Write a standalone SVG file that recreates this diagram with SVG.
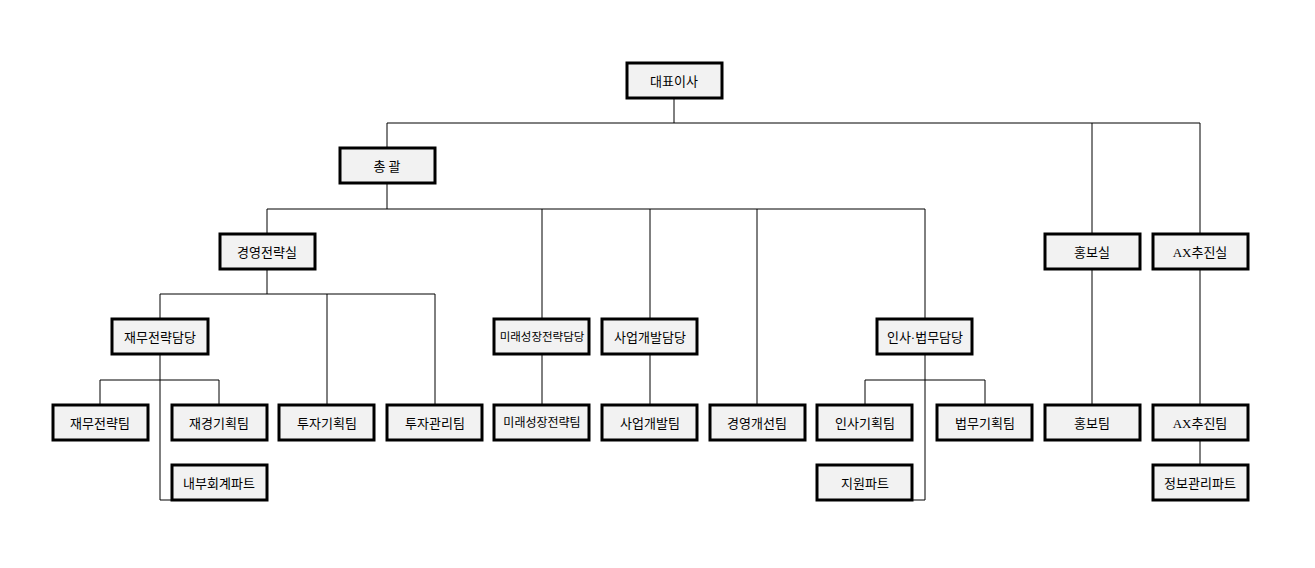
<svg xmlns="http://www.w3.org/2000/svg" width="1315" height="568" viewBox="0 0 1315 568">
<style>
.n rect{fill:#f2f2f2;stroke:#000;stroke-width:3}
.n text{font-family:"Liberation Serif","Noto Sans CJK KR",serif;font-size:13px;text-anchor:middle;dominant-baseline:central;fill:#000}
.c{stroke:#000;stroke-width:1;fill:none}
</style>
<rect width="1315" height="568" fill="#fff"/>
<g id="connectors" class="c">
<path d="M674 98V123M387 123H1200M387 123V148M1092 123V234M1200 123V234"/>
<path d="M387 183V209M267 209H925M267 209V234M542 209V319M650 209V319M757 209V405M925 209V319"/>
<path d="M267 269V294M160 294H435M160 294V319M327 294V405M435 294V405"/>
<path d="M160 354V500H172M100 380H219M100 380V405M219 380V405"/>
<path d="M542 354V405M650 354V405"/>
<path d="M925 354V500H912M865 380H985M865 380V405M985 380V405"/>
<path d="M1092 269V405M1200 269V405M1200 440V465"/>
</g>
<g id="ceo" class="n"><rect x="627" y="63" width="95" height="35"/><text x="674" y="81">대표이사</text></g>
<g id="gm" class="n"><rect x="340" y="148" width="95" height="35"/><text x="387" y="166">총 괄</text></g>
<g id="strategy" class="n"><rect x="220" y="234" width="95" height="35"/><text x="267" y="252">경영전략실</text></g>
<g id="pr" class="n"><rect x="1045" y="234" width="95" height="35"/><text x="1092" y="252">홍보실</text></g>
<g id="ax" class="n"><rect x="1153" y="234" width="95" height="35"/><text x="1200" y="252">AX추진실</text></g>
<g id="finhead" class="n"><rect x="112" y="319" width="96" height="35"/><text x="160" y="337">재무전략담당</text></g>
<g id="futurehead" class="n"><rect x="494" y="319" width="95" height="35"/><text x="542" y="337" style="font-size:11.5px">미래성장전략담당</text></g>
<g id="bizhead" class="n"><rect x="602" y="319" width="95" height="35"/><text x="650" y="337">사업개발담당</text></g>
<g id="hrhead" class="n"><rect x="877" y="319" width="95" height="35"/><text x="925" y="337">인사·법무담당</text></g>
<g id="fin" class="n"><rect x="53" y="405" width="95" height="35"/><text x="100" y="423">재무전략팀</text></g>
<g id="finplan" class="n"><rect x="172" y="405" width="95" height="35"/><text x="219" y="423">재경기획팀</text></g>
<g id="invplan" class="n"><rect x="279" y="405" width="95" height="35"/><text x="327" y="423">투자기획팀</text></g>
<g id="invmgmt" class="n"><rect x="387" y="405" width="95" height="35"/><text x="435" y="423">투자관리팀</text></g>
<g id="future" class="n"><rect x="494" y="405" width="95" height="35"/><text x="542" y="423" style="font-size:12px">미래성장전략팀</text></g>
<g id="biz" class="n"><rect x="602" y="405" width="95" height="35"/><text x="650" y="423">사업개발팀</text></g>
<g id="improve" class="n"><rect x="710" y="405" width="95" height="35"/><text x="757" y="423">경영개선팀</text></g>
<g id="hrplan" class="n"><rect x="817" y="405" width="95" height="35"/><text x="865" y="423">인사기획팀</text></g>
<g id="legal" class="n"><rect x="937" y="405" width="95" height="35"/><text x="985" y="423">법무기획팀</text></g>
<g id="prteam" class="n"><rect x="1045" y="405" width="95" height="35"/><text x="1092" y="423">홍보팀</text></g>
<g id="axteam" class="n"><rect x="1153" y="405" width="95" height="35"/><text x="1200" y="423">AX추진팀</text></g>
<g id="audit" class="n"><rect x="172" y="465" width="95" height="35"/><text x="219" y="483">내부회계파트</text></g>
<g id="support" class="n"><rect x="817" y="465" width="95" height="35"/><text x="865" y="483">지원파트</text></g>
<g id="info" class="n"><rect x="1153" y="465" width="95" height="35"/><text x="1200" y="483">정보관리파트</text></g>
</svg>
